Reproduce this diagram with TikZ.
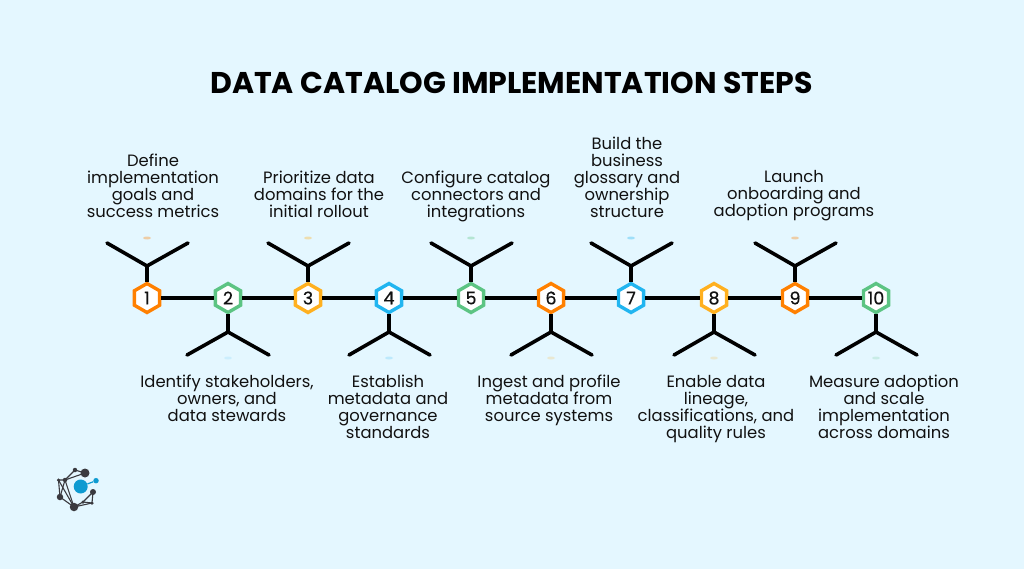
\documentclass[tikz,border=0pt]{standalone}
\usepackage{fontspec}
\setmainfont{Poppins}
\newfontfamily\numfont[FakeBold=0.5]{Poppins}
\usepackage{xcolor}
\definecolor{bgc}{HTML}{E4F7FF}
\definecolor{ink}{HTML}{111111}
\definecolor{co}{HTML}{FF8000}
\definecolor{cg}{HTML}{5CC483}
\definecolor{cy}{HTML}{FFB01F}
\definecolor{cb}{HTML}{21B5F0}
\definecolor{lb}{HTML}{0E9BD1}
\definecolor{ld}{HTML}{3A3A3F}
\usetikzlibrary{shapes.geometric}

\begin{document}
\begin{tikzpicture}[x=1pt, y=-1pt,
  hexstep/.style={regular polygon, regular polygon sides=6, shape border rotate=30, draw=#1, fill=white, line width=3.4pt, minimum size=29pt, inner sep=0pt, font=\fontsize{17.5}{18}\numfont, text=ink},
  steptext/.style={align=center, text=ink, inner sep=0pt, font=\fontsize{16.4}{17}\selectfont,
    execute at begin node=\rule{0pt}{15pt}, execute at end node=\rule[-4pt]{0pt}{4pt}},
  bar/.style={draw=black, line width=4pt},
  arm/.style={draw=black, line width=3.6pt, line cap=round},
  speck/.style={fill=#1, opacity=0.35, draw=none, inner sep=0pt, minimum width=8pt, minimum height=3pt, ellipse},
  hub/.style={circle, fill=ld, inner sep=0pt, minimum size=#1},
  web/.style={draw=ld, line width=1.1pt}]

  \fill[bgc] (0,0) rectangle (1024,569);
  \useasboundingbox (0,0) rectangle (1024,569);

  % Title
  \node[font=\fontsize{30}{34}\selectfont\bfseries, text=black, inner sep=0pt] (title) at (511.5,83) {DATA CATALOG IMPLEMENTATION STEPS};

  % Step hexagons
  \node[hexstep=co] (S1) at (147,298) {1};
  \node[hexstep=cg] (S2) at (228,298) {2};
  \node[hexstep=cy] (S3) at (308,298) {3};
  \node[hexstep=cb] (S4) at (389,298) {4};
  \node[hexstep=cg] (S5) at (471,298) {5};
  \node[hexstep=co] (S6) at (551,298) {6};
  \node[hexstep=cb] (S7) at (631,298) {7};
  \node[hexstep=cy] (S8) at (714,298) {8};
  \node[hexstep=co] (S9) at (795,298) {9};
  \node[hexstep=cg] (S10) at (876,298) {10};

  % Line between the steps
  \draw[bar] (S1.east) -- (S1.east -| S2.west);
  \draw[bar] (S2.east) -- (S2.east -| S3.west);
  \draw[bar] (S3.east) -- (S3.east -| S4.west);
  \draw[bar] (S4.east) -- (S4.east -| S5.west);
  \draw[bar] (S5.east) -- (S5.east -| S6.west);
  \draw[bar] (S6.east) -- (S6.east -| S7.west);
  \draw[bar] (S7.east) -- (S7.east -| S8.west);
  \draw[bar] (S8.east) -- (S8.east -| S9.west);
  \draw[bar] (S9.east) -- (S9.east -| S10.west);

  % Forks above the odd steps
  \coordinate (J1) at (147,266);
  \coordinate (J3) at (308,266);
  \coordinate (J5) at (471,266);
  \coordinate (J7) at (631,266);
  \coordinate (J9) at (795,266);
  \coordinate (A1) at (107,243);
  \coordinate (B1) at (188,243);
  \coordinate (A3) at (268,243);
  \coordinate (B3) at (349,243);
  \coordinate (A5) at (431,243);
  \coordinate (B5) at (512,243);
  \coordinate (A7) at (591,243);
  \coordinate (B7) at (672,243);
  \coordinate (A9) at (755,243);
  \coordinate (B9) at (836,243);
  \draw[bar] (J1 |- S1.north) -- (J1);
  \draw[bar] (J3 |- S3.north) -- (J3);
  \draw[bar] (J5 |- S5.north) -- (J5);
  \draw[bar] (J7 |- S7.north) -- (J7);
  \draw[bar] (J9 |- S9.north) -- (J9);
  \draw[arm] (A1) -- (J1) -- (B1);
  \draw[arm] (A3) -- (J3) -- (B3);
  \draw[arm] (A5) -- (J5) -- (B5);
  \draw[arm] (A7) -- (J7) -- (B7);
  \draw[arm] (A9) -- (J9) -- (B9);

  % Forks below the even steps
  \coordinate (J2) at (228,332);
  \coordinate (J4) at (389,332);
  \coordinate (J6) at (551,332);
  \coordinate (J8) at (714,332);
  \coordinate (J10) at (876,332);
  \coordinate (A2) at (187,355);
  \coordinate (B2) at (269,355);
  \coordinate (A4) at (349,355);
  \coordinate (B4) at (430,355);
  \coordinate (A6) at (511,355);
  \coordinate (B6) at (592,355);
  \coordinate (A8) at (674,355);
  \coordinate (B8) at (755,355);
  \coordinate (A10) at (836,355);
  \coordinate (B10) at (917,355);
  \draw[bar] (J2 |- S2.south) -- (J2);
  \draw[bar] (J4 |- S4.south) -- (J4);
  \draw[bar] (J6 |- S6.south) -- (J6);
  \draw[bar] (J8 |- S8.south) -- (J8);
  \draw[bar] (J10 |- S10.south) -- (J10);
  \draw[arm] (A2) -- (J2) -- (B2);
  \draw[arm] (A4) -- (J4) -- (B4);
  \draw[arm] (A6) -- (J6) -- (B6);
  \draw[arm] (A8) -- (J8) -- (B8);
  \draw[arm] (A10) -- (J10) -- (B10);

  % Faint tints near the forks
  \node[speck=co] (T1) at (147,238) {};
  \node[speck=cy] (T3) at (308,238) {};
  \node[speck=cg] (T5) at (471,238) {};
  \node[speck=cb] (T7) at (631,238) {};
  \node[speck=co] (T9) at (795,238) {};
  \node[speck=cb, opacity=0.12] (T2) at (228,358) {};
  \node[speck=cb, opacity=0.2] (T4) at (389,358) {};
  \node[speck=cy, opacity=0.2] (T6) at (551,358) {};
  \node[speck=cy, opacity=0.2] (T8) at (714,358) {};
  \node[speck=cg, opacity=0.2] (T10) at (876,358) {};

  % Step texts
  \node[steptext] (L1) at (153,187.5) {Define\\implementation\\goals and\\success metrics};
  \node[steptext] (L3) at (319,196) {Prioritize data\\domains for the\\initial rollout};
  \node[steptext] (L5) at (476,196) {Configure catalog\\connectors and\\integrations};
  \node[steptext] (L7) at (627,179) {Build the\\business\\glossary and\\ownership\\structure};
  \node[steptext] (L9) at (794,196) {Launch\\onboarding and\\adoption programs};
  \node[steptext] (L2) at (227,400) {Identify stakeholders,\\owners, and\\data stewards};
  \node[steptext] (L4) at (388,408.5) {Establish\\metadata and\\governance\\standards};
  \node[steptext] (L6) at (549,400) {Ingest and profile\\metadata from\\source systems};
  \node[steptext] (L8) at (716,409) {Enable data\\lineage,\\classifications, and\\quality rules};
  \node[steptext] (L10) at (884,408.5) {Measure adoption\\and scale\\implementation\\across domains};

  % Logo
  \coordinate (P1) at (85,473);
  \coordinate (P2) at (75,470);
  \coordinate (P3) at (65,480);
  \coordinate (P4) at (58.5,480);
  \coordinate (P5) at (60,497);
  \coordinate (P6) at (74,507);
  \coordinate (P7) at (93,492);
  \coordinate (P8) at (92,503);
  \coordinate (P9) at (83,502);
  \draw[web] (P1) -- (P2) -- (P3) -- (P4);
  \draw[web] (P1) -- (P3) -- (P6) -- (P5) -- (P3);
  \draw[web] (P4) -- (P6) -- (P9) -- (P7) -- (P8) -- (P6);
  \draw[web] (P9) -- (P8);
  \draw[web] (P4) -- (P5);
  \node[hub=9pt] (H1) at (P1) {};
  \node[hub=4.5pt] (H2) at (P2) {};
  \node[hub=4.5pt] (H3) at (P3) {};
  \node[hub=3.5pt] (H4) at (P4) {};
  \node[hub=6.5pt] (H5) at (P5) {};
  \node[hub=8.5pt] (H6) at (P6) {};
  \node[hub=6pt] (H7) at (P7) {};
  \node[hub=3.5pt] (H8) at (P8) {};
  \node[hub=3.5pt] (H9) at (P9) {};
  \node[circle, fill=lb, inner sep=0pt, minimum size=14pt] (C1) at (80.7,486.5) {};
  \node[circle, fill=lb, inner sep=0pt, minimum size=5.5pt] (C2) at (96,480.7) {};
  \draw[lb, line width=1.2pt] (C1) -- (C2);

\end{tikzpicture}
\end{document}
